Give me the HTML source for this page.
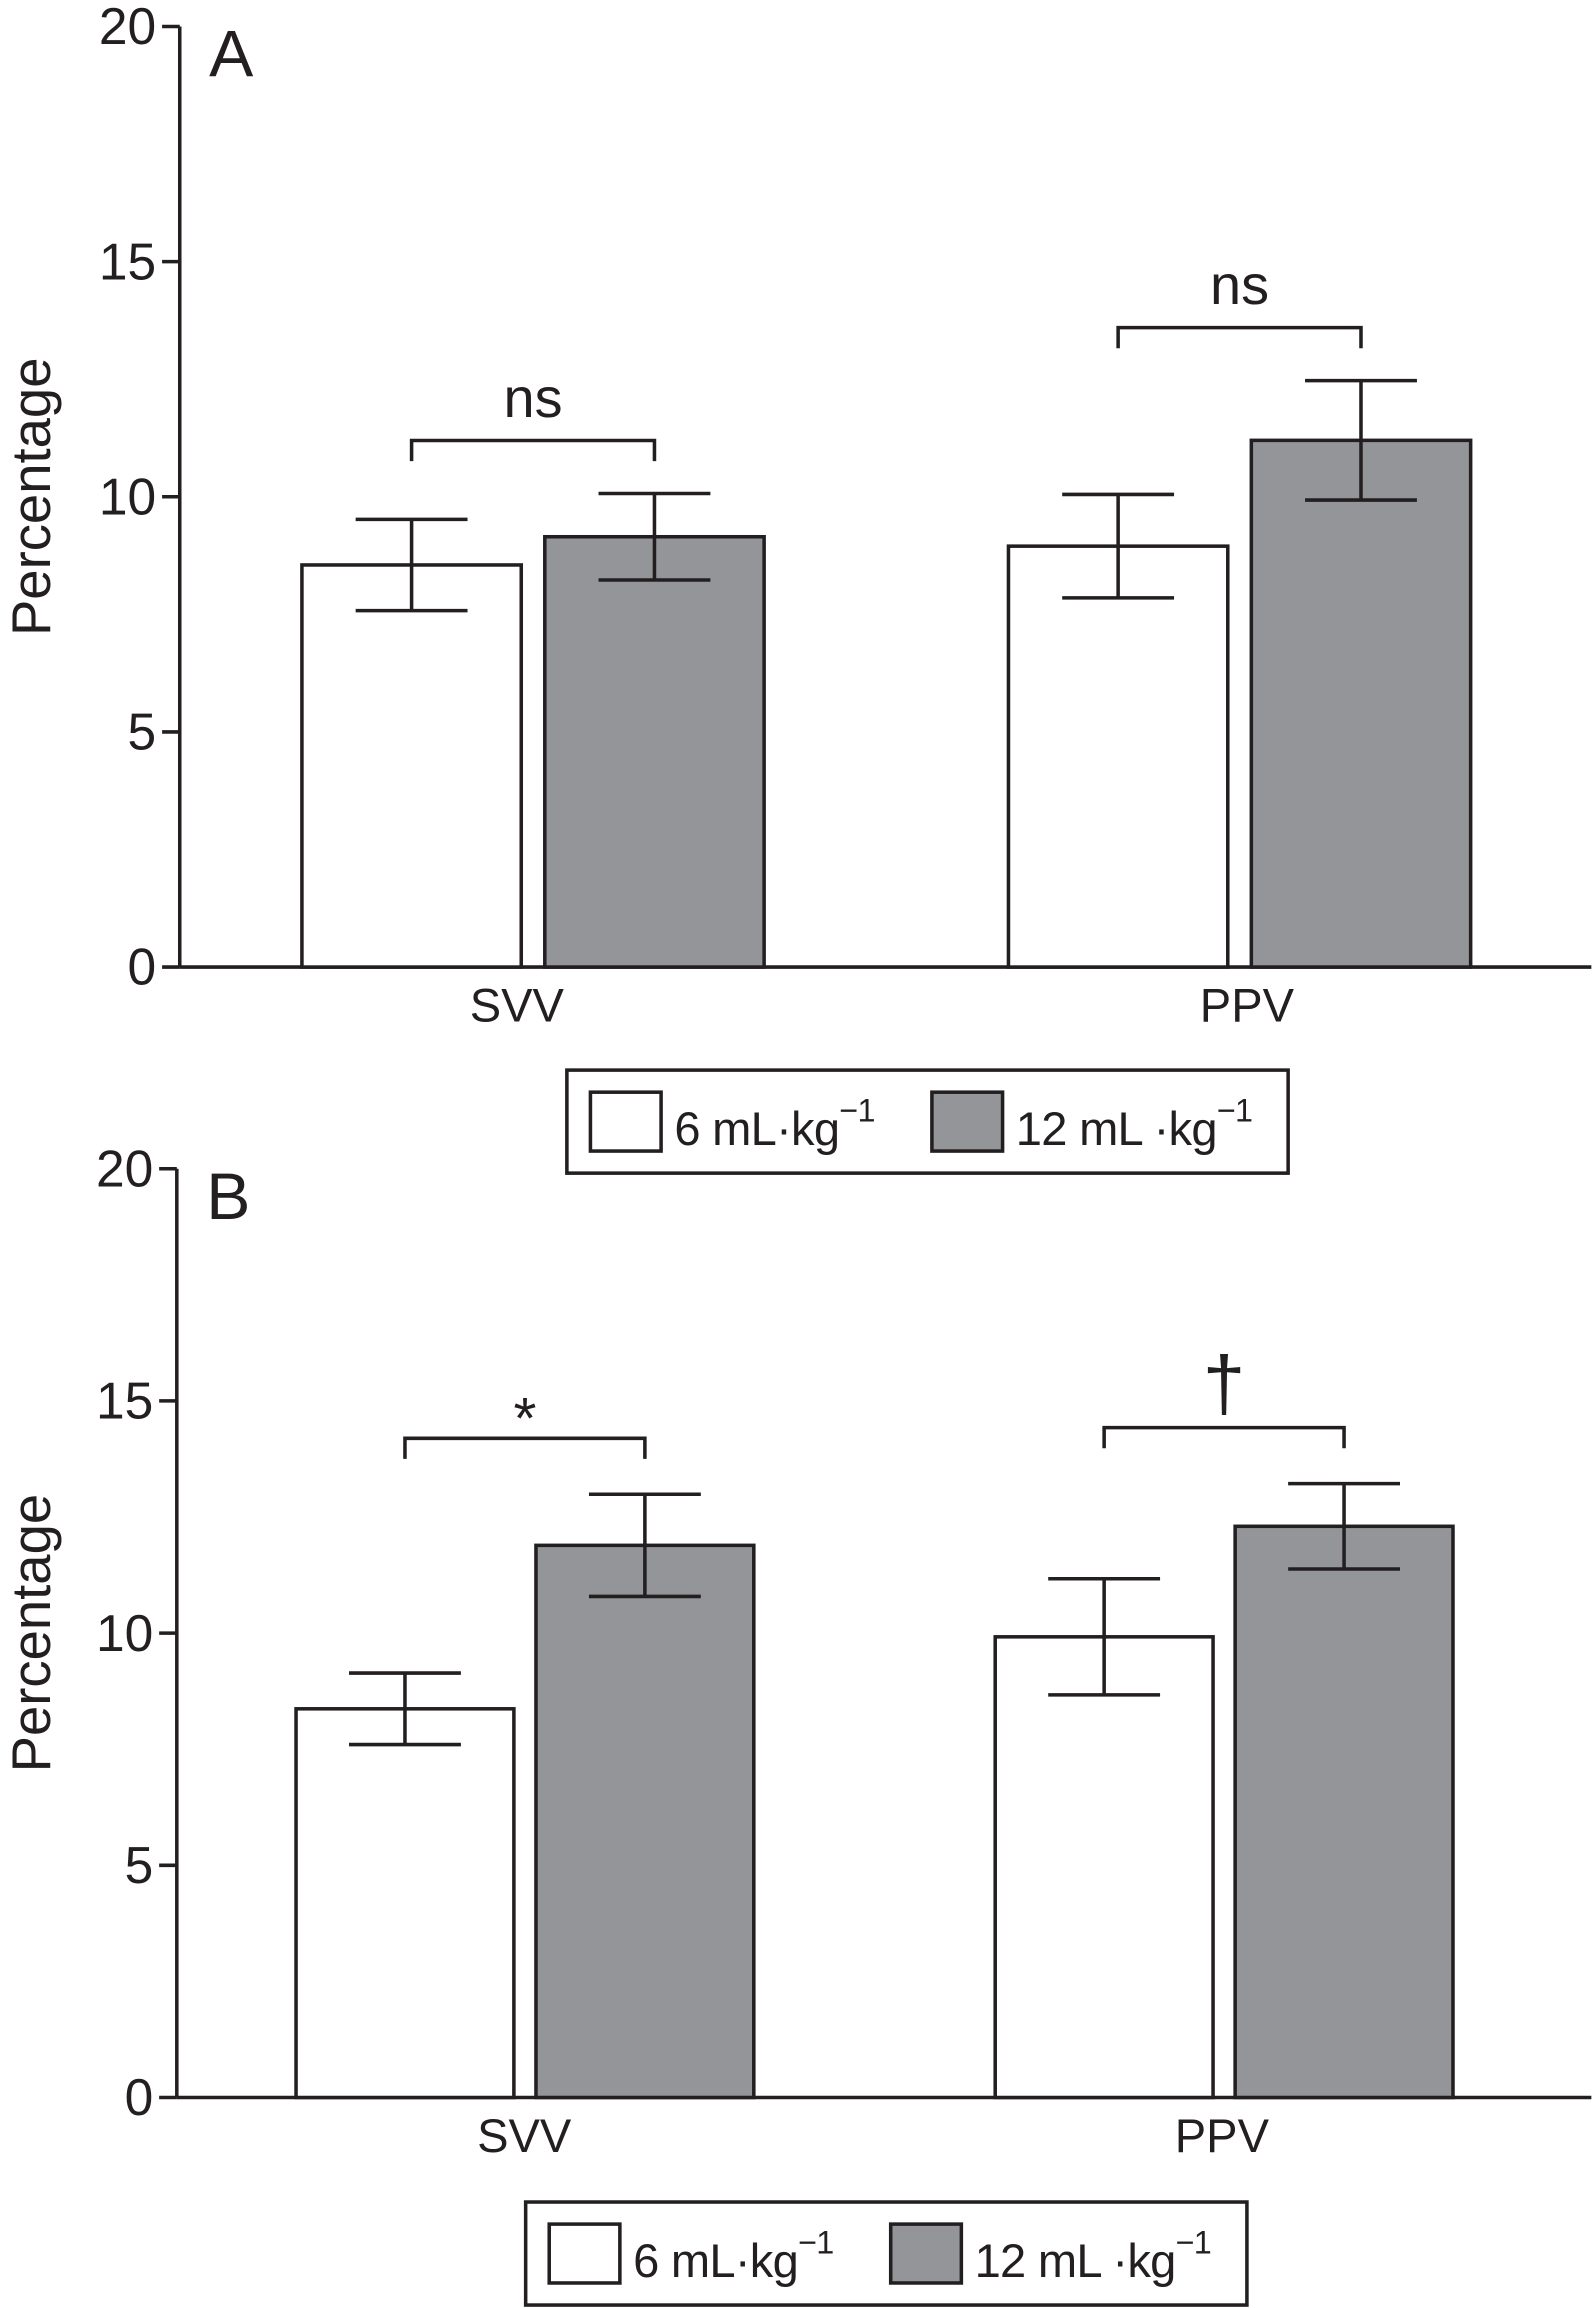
<!DOCTYPE html>
<html><head><meta charset="utf-8"><style>
html,body{margin:0;padding:0;background:#fff}
svg{display:block}
text{font-family:"Liberation Sans",Arial,sans-serif;fill:#231f20}
</style></head><body>
<svg id="fig" width="1593" height="2308" viewBox="0 0 1082 1568" xmlns="http://www.w3.org/2000/svg"></svg>
<script>
const categories = ["SVV", "PPV"];
const seriesNames = ["6 mL·kg", "12 mL ·kg"];
const aLow = [8.55, 8.95];
const aLowErr = [0.97, 1.1];
const aHigh = [9.15, 11.2];
const aHighErr = [0.92, 1.27];
const bLow = [8.37, 9.92];
const bLowErr = [0.77, 1.25];
const bHigh = [11.89, 12.3];
const bHighErr = [1.1, 0.92];
const yTicks = [0, 5, 10, 15, 20];
const aSig = ["ns", "ns"];
const bSig = ["*", "†"];

const NS = "http://www.w3.org/2000/svg";
const svg = document.getElementById('fig');
function mk(tag, attrs, parent) {
  const e = document.createElementNS(NS, tag);
  for (const k in attrs) e.setAttribute(k, attrs[k]);
  (parent || svg).appendChild(e);
  return e;
}
const INK = "#231f20", GRAY = "#939598", SW = 2.4;

function panel(cfg) {
  const g = mk('g', {});
  
  
  const y = v => cfg.y0 - (v / 20) * (cfg.y0 - cfg.y20);
  const ya = mk('line', {x1: cfg.ax, x2: cfg.ax, y1: y(20), y2: y(0), stroke: INK, 'stroke-width': SW}, g);
  
  
  const xa = mk('line', {x1: cfg.ax, x2: 1081, y1: y(0), y2: y(0), stroke: INK, 'stroke-width': SW}, g);
  
  
  yTicks.forEach(t => {
    const tk = mk('line', {x1: cfg.ax - 12, x2: cfg.ax, y1: y(t), y2: y(t), stroke: INK, 'stroke-width': SW}, g);
    
    
    const tl = mk('text', {x: cfg.ax - 16, y: y(t) + 12, 'text-anchor': 'end', 'font-size': 35}, g);
    tl.textContent = t;
    
    
  });
  const yt = mk('text', {x: 0, y: 0, 'text-anchor': 'middle', 'font-size': 37, transform: `translate(34 ${(y(0)+y(20))/2}) rotate(-90)`}, g);
  yt.textContent = "Percentage";
  
  
  const pl = mk('text', {x: cfg.ax + 20, y: y(20) + 34, 'font-size': 45}, g);
  pl.textContent = cfg.letter;
  
  
  categories.forEach((c, i) => {
    const x1 = cfg.barX[i], x2 = x1 + cfg.bw + cfg.gap;
    const bars = [[x1, cfg.low[i], cfg.lowErr[i], '#fff'], [x2, cfg.high[i], cfg.highErr[i], GRAY]];
    bars.forEach((b, j) => {
      const r = mk('rect', {x: b[0], y: y(b[1]), width: cfg.bw, height: y(0) - y(b[1]), fill: b[3], stroke: INK, 'stroke-width': SW}, g);
      
      
      const cx = b[0] + cfg.bw / 2;
      const eb = mk('path', {d: `M${cx-38} ${y(b[1]+b[2])}H${cx+38}M${cx} ${y(b[1]+b[2])}V${y(b[1]-b[2])}M${cx-38} ${y(b[1]-b[2])}H${cx+38}`, stroke: INK, 'stroke-width': SW, fill: 'none'}, g);
      
      
    });
    const c1 = x1 + cfg.bw / 2, c2 = x2 + cfg.bw / 2;
    const top = Math.max(cfg.high[i] + cfg.highErr[i], cfg.low[i] + cfg.lowErr[i]);
    const by = y(top) - cfg.brOff;
    const br = mk('path', {d: `M${c1} ${by+14}V${by}H${c2}V${by+14}`, stroke: INK, 'stroke-width': SW, fill: 'none'}, g);
    
    
    const s = cfg.sig[i];
    const fs = s === 'ns' ? 38 : (s === '†' ? 52 : 40);
    const st = mk('text', {x: (c1 + c2) / 2, y: by - (s === '*' ? 0 : (s === '†' ? 12 : 16)), 'text-anchor': 'middle', 'font-size': fs}, g);
    st.textContent = s;
    
    
    const cl = mk('text', {x: cfg.labelX[i], y: y(0) + 37, 'text-anchor': 'middle', 'font-size': 32}, g);
    cl.textContent = c;
    
    
  });
  const L = cfg.legend;
  const lg = mk('g', {}, g);
  
  
  mk('rect', {x: L.x, y: L.y, width: 490, height: 70, fill: '#fff', stroke: INK, 'stroke-width': SW}, lg);
  [[L.x + 16, '#fff', seriesNames[0]], [L.x + 248, GRAY, seriesNames[1]]].forEach((e, k) => {
    const sw = mk('rect', {x: e[0], y: L.y + 15, width: 48, height: 40, fill: e[1], stroke: INK, 'stroke-width': SW}, lg);
    
    
    const t = mk('text', {x: e[0] + 57, y: L.y + 51, 'font-size': 32, 'letter-spacing': -0.5}, lg);
    
    
    t.textContent = e[2];
    const sup = mk('tspan', {'font-size': 22, dy: -16}, t);
    sup.textContent = '−1';
  });
}

panel({name: 'panel-a', letter: 'A', ax: 122, y20: 18, y0: 657, barX: [205, 685], bw: 149, gap: 16,
  low: aLow, lowErr: aLowErr, high: aHigh, highErr: aHighErr, sig: aSig, brOff: 36,
  labelX: [351, 847], legend: {x: 385, y: 727}});
panel({name: 'panel-b', letter: 'B', ax: 120, y20: 794, y0: 1425, barX: [201, 676], bw: 148, gap: 15,
  low: bLow, lowErr: bLowErr, high: bHigh, highErr: bHighErr, sig: bSig, brOff: 38,
  labelX: [356, 830], legend: {x: 357, y: 1496}});
</script>
</body></html>
